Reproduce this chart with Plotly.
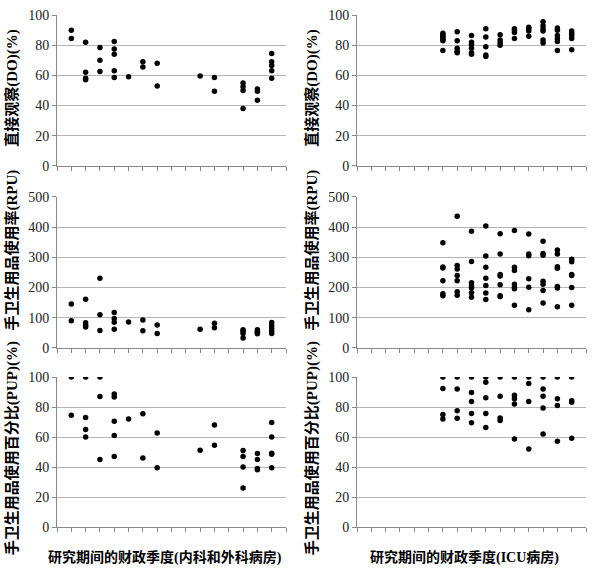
import plotly.graph_objects as go

# ---------------- data ----------------
# quarter index (x) -> list of values
do_med_x = [1,1, 2,2,2,2, 3,3,3, 4,4,4,4,4, 5, 6,6, 7,7, 10, 11,11, 13,13,13,13, 14,14,14, 15,15,15,15,15]
do_med_y = [90,84.5, 82,62,58,57, 78.5,70,62.5, 82.5,77.5,74,63,58.5, 59, 69,65.5, 68,53, 59.5, 58.5,49.5, 55,52.5,50,38, 51,49.5,43.5, 74.5,69,66.5,63,58]

do_icu_x = [6,6,6,6,6,6,6, 7,7,7,7,7, 8,8,8,8,8,8, 9,9,9,9,9, 10,10,10,10, 11,11,11,11, 12,12,12,12, 13,13,13,13,13,13, 14,14,14,14,14,14, 15,15,15,15,15]
do_icu_y = [88,87,86,85,84,83,76.5, 89,83,78,76,75, 86.5,82,80.5,78,75,74, 91,85.5,79,73.5,72.5, 87,83.5,81.5,80, 91,90,88.5,84.5, 92,91,89.5,86, 95.5,93,91,89.5,83.5,81.5, 91.5,90,86.5,84.5,82.5,76.5, 89.5,88,86.5,84.5,77]

rpu_med_x = [1,1, 2,2,2,2, 3,3,3, 4,4,4,4, 5, 6,6, 7,7, 10, 11,11, 13,13,13,13, 14,14,14,14, 15,15,15,15,15]
rpu_med_y = [145,90, 161,83,75,69, 231,110,58, 117,97,85,62, 86, 92,57, 76,48, 62, 82,67, 60,55,48,33, 60,55,51,47, 84,74,64,55,48]

rpu_icu_x = [6,6,6,6,6,6, 7,7,7,7,7,7,7, 8,8,8,8,8,8,8, 9,9,9,9,9,9,9, 10,10,10,10,10,10,10, 11,11,11,11,11,11,11, 12,12,12,12,12,12, 13,13,13,13,13,13,13, 14,14,14,14,14,14,14, 15,15,15,15,15,15]
rpu_icu_y = [348,268,265,222,179,173, 436,273,261,240,222,186,174, 386,286,216,205,198,183,168, 404,304,267,231,207,182,160, 378,311,243,238,209,173,170, 389,267,256,211,201,196,141, 377,311,305,229,201,126, 353,313,307,221,211,190,149, 324,311,269,264,203,198,136, 294,285,243,240,200,141]

pup_med_x = [1,1, 2,2,2,2, 3,3,3, 4,4,4,4,4, 5, 6,6, 7,7, 10, 11,11, 13,13,13,13, 14,14,14,14, 15,15,15,15,15]
pup_med_y = [100,74.5, 100,73,65,60, 100,87,45, 88.7,86.7,70.5,61,47, 72, 75.5,46, 62.8,39.5, 51.2, 68,54.5, 51,47,40,26, 49,45,39,38.3, 69.7,60,49.2,48.5,39.6]

pup_icu_x = [6,6,6,6, 7,7,7,7, 8,8,8,8,8, 9,9,9,9,9, 10,10,10,10, 11,11,11,11,11, 12,12,12,12, 13,13,13,13,13, 14,14,14,14, 15,15,15,15]
pup_icu_y = [100,92.4,75,72, 100,92,77.5,72.5, 100,89.8,83.7,75.7,69.6, 100,96.5,86.3,75.7,66.4, 100,87.2,72.8,71, 100,87.9,85.5,82,58.8, 100,95.7,83.7,52, 100,92,87.2,79.4,62, 100,85.5,81,57.3, 100,84.2,83.3,59.2]

y_titles_left = ["直接观察(DO)(%)", "手卫生用品使用率(RPU)", "手卫生用品使用百分比(PUP)(%)"]
y_titles_right = ["直接观察(DO)(%)", "手卫生用品使用率(RPU)", "手卫生用品使用百分比(PUP)(%)"]
x_title_left = "研究期间的财政季度(内科和外科病房)"
x_title_right = "研究期间的财政季度(ICU病房)"

# ---------------- layout ----------------
W, H = 600, 577
def px_x(p): return p / W
def px_y(p): return 1 - p / H

col_dom = [[px_x(57), px_x(286)], [px_x(357), px_x(586)]]
row_pix = [(8.3, 163), (195, 350), (380, 534)]
row_dom = [[px_y(b), px_y(t)] for t, b in row_pix]

panels = [
    (0, 0, do_med_x, do_med_y, [0, 100], 20),
    (0, 1, do_icu_x, do_icu_y, [0, 100], 20),
    (1, 0, rpu_med_x, rpu_med_y, [0, 500], 100),
    (1, 1, rpu_icu_x, rpu_icu_y, [0, 500], 100),
    (2, 0, pup_med_x, pup_med_y, [0, 100], 20),
    (2, 1, pup_icu_x, pup_icu_y, [0, 100], 20),
]

fig = go.Figure()
tick_font = dict(family="Liberation Serif, serif", size=14, color="#222")
layout = dict(width=W, height=H, margin=dict(l=0, r=0, t=0, b=0),
              plot_bgcolor="white", paper_bgcolor="white", showlegend=False)

for i, (r, c, xs, ys, yr, dt) in enumerate(panels):
    n = i + 1
    xa = "x" if n == 1 else f"x{n}"
    ya = "y" if n == 1 else f"y{n}"
    fig.add_trace(go.Scatter(x=xs, y=ys, mode="markers", xaxis=xa, yaxis=ya,
                             marker=dict(color="black", size=5.5)))
    layout[f"xaxis{'' if n == 1 else n}"] = dict(
        domain=col_dom[c], anchor=ya, range=[0, 16], dtick=1, tick0=0,
        showticklabels=False, showgrid=False, zeroline=False,
        showline=True, linecolor="#888", linewidth=1,
        ticks="outside", ticklen=4, tickcolor="#888", fixedrange=True)
    layout[f"yaxis{'' if n == 1 else n}"] = dict(
        domain=row_dom[r], anchor=xa, range=yr, dtick=dt, tick0=0,
        showgrid=True, gridcolor="#b5b5b5", gridwidth=1, zeroline=False,
        showline=True, linecolor="#888", linewidth=1,
        ticks="outside", ticklen=4, tickcolor="#888",
        tickfont=tick_font, fixedrange=True)

fig.update_layout(**layout)

title_font = dict(family="Liberation Serif, Noto Sans CJK SC", size=15, color="black")
centers = [84, 250, 453]
for r in range(3):
    fig.add_annotation(text="<b>" + y_titles_left[r] + "</b>", x=px_x(12), y=px_y(centers[r]),
                       xref="paper", yref="paper", textangle=-90, showarrow=False,
                       font=title_font, xanchor="center", yanchor="middle")
    fig.add_annotation(text="<b>" + y_titles_right[r] + "</b>", x=px_x(312), y=px_y(centers[r]),
                       xref="paper", yref="paper", textangle=-90, showarrow=False,
                       font=title_font, xanchor="center", yanchor="middle")

xt_font = dict(family="Liberation Serif, Noto Sans CJK SC", size=14, color="black")
fig.add_annotation(text="<b>" + x_title_left + "</b>", x=px_x(165), y=px_y(565),
                   xref="paper", yref="paper", showarrow=False, font=xt_font,
                   xanchor="center", yanchor="middle")
fig.add_annotation(text="<b>" + x_title_right + "</b>", x=px_x(464), y=px_y(565),
                   xref="paper", yref="paper", showarrow=False, font=xt_font,
                   xanchor="center", yanchor="middle")

fig.write_html("out.html", config={"displayModeBar": False},
               post_script="document.body.style.margin='0';")
